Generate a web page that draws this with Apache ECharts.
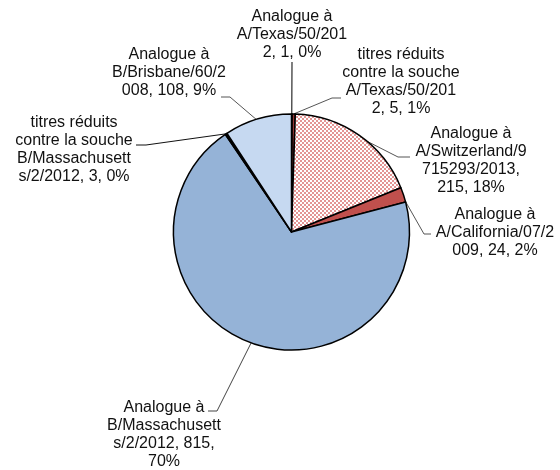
<!DOCTYPE html>
<html>
<head>
<meta charset="utf-8">
<script src="https://cdn.jsdelivr.net/npm/echarts@6/dist/echarts.min.js"></script>
<style>
html,body{margin:0;padding:0;background:#fff;}
#chart{width:560px;height:470px;}
</style>
</head>
<body>
<div id="chart"></div>
<script>
// ---- data ----
const categories = [
  'Analogue à A/Texas/50/2012',
  'titres réduits contre la souche A/Texas/50/2012',
  'Analogue à A/Switzerland/9715293/2013',
  'Analogue à A/California/07/2009',
  'Analogue à B/Massachusetts/2/2012',
  'titres réduits contre la souche B/Massachusetts/2/2012',
  'Analogue à B/Brisbane/60/2008'
];
const values = [1, 5, 215, 24, 815, 3, 108];

// ---- styles / layout ----
const CX = 291.5, CY = 232, R = 118;
const sliceColors = ['#000000', '#953735', 'PATTERN', '#C0504D', '#95B3D7', '#000000', '#C6D9F1'];
const leaderColors = ['#000000', '#555555', '#555555', '#555555', '#444444', '#111111', '#555555'];
const wrapWidths = [119, 119, 119, 126, 119, 119, 119];
const labelPos = [[292, 8], [401, 46], [471, 125], [495, 206], [164, 399], [74, 114], [169, 46]];
// leader: [tick start, elbow, attach angle (deg, clockwise from 12 o'clock)]
const leaders = [
  [[292, 62], [292, 62], 0.15],
  [[341, 98], [332, 98], 1.0],
  [[410, 157], [398, 157], 39.6],
  [[431, 234], [424, 234], 75],
  [[208, 411], [217, 411], 200],
  [[136, 145], [146, 145], 326.3],
  [[221, 97], [230, 97], 342.6]
];

// checker pattern
const pc = document.createElement('canvas');
pc.width = 4; pc.height = 4;
const pctx = pc.getContext('2d');
pctx.fillStyle = '#ffffff'; pctx.fillRect(0, 0, 4, 4);
pctx.fillStyle = '#E39594';
pctx.fillRect(0, 0, 2, 2); pctx.fillRect(2, 2, 2, 2);

const mctx = document.createElement('canvas').getContext('2d');
mctx.font = '16px "Liberation Sans"';
const tw = s => mctx.measureText(s).width;
function wrap(text, maxW) {
  const words = text.split(' ');
  const lines = [];
  let cur = '';
  for (let word of words) {
    const cand = cur ? cur + ' ' + word : word;
    if (tw(cand) <= maxW) { cur = cand; continue; }
    if (cur) { lines.push(cur); cur = ''; }
    while (tw(word) > maxW) {
      let i = 1;
      while (i < word.length && tw(word.slice(0, i + 1)) <= maxW) i++;
      lines.push(word.slice(0, i));
      word = word.slice(i);
    }
    cur = word;
  }
  if (cur) lines.push(cur);
  return lines.join('\n');
}

const data = categories.map((name, i) => ({
  name: name,
  value: values[i],
  itemStyle: {
    color: sliceColors[i] === 'PATTERN' ? { image: pc, repeat: 'repeat' } : sliceColors[i]
  },
  labelLine: { lineStyle: { color: leaderColors[i] } }
}));

const chart = echarts.init(document.getElementById('chart'), null, { renderer: 'canvas' });
chart.setOption({
  backgroundColor: '#ffffff',
  animation: false,
  series: [{
    type: 'pie',
    center: [CX, CY],
    radius: R,
    startAngle: 90,
    clockwise: true,
    avoidLabelOverlap: false,
    percentPrecision: 0,
    data: data,
    itemStyle: { borderColor: '#000', borderWidth: 1.5 },
    emphasis: { disabled: true },
    label: {
      show: true,
      position: 'outside',
      fontFamily: '"Liberation Sans", Arial, sans-serif',
      fontSize: 16,
      lineHeight: 18,
      color: '#111',
      align: 'center',
      formatter: p => wrap(p.name + ', ' + p.value + ', ' + p.percent + '%', wrapWidths[p.dataIndex])
    },
    labelLine: {
      show: true,
      lineStyle: { color: '#000', width: 1 }
    },
    labelLayout: function (params) {
      const i = params.dataIndex;
      const lp = labelPos[i];
      const ld = leaders[i];
      const a = ld[2] * Math.PI / 180;
      const edge = [CX + R * Math.sin(a), CY - R * Math.cos(a)];
      return {
        x: lp[0],
        y: lp[1],
        align: 'center',
        verticalAlign: 'top',
        labelLinePoints: [ld[0], ld[1], edge]
      };
    }
  }]
});
</script>
</body>
</html>
